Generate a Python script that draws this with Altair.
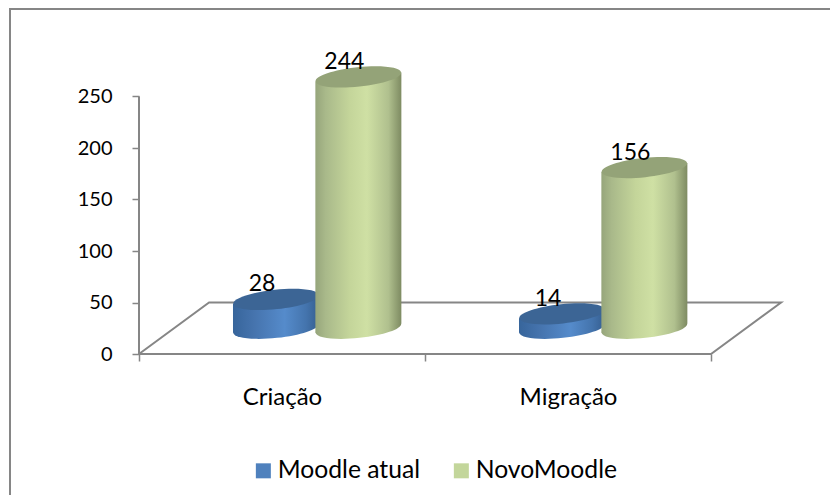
import altair as alt
import pandas as pd

categories = ["Criação", "Migração"]
series = ["Moodle atual", "NovoMoodle"]
moodle_atual = [28, 14]
novo_moodle = [244, 156]
y_ticks = [0, 50, 100, 150, 200, 250]

W, H = 822, 487
PX_X, PX_Y = 286.0, 1.03          # pixels per category / per value unit
X0, Y0 = 131, 346                 # plot position of the chart origin
XMIN, XMAX = -X0 / PX_X, (W - X0) / PX_X
YMIN, YMAX = -(H - Y0) / PX_Y, Y0 / PX_Y
x_scale = alt.Scale(domain=[XMIN, XMAX], nice=False, zero=False)
y_scale = alt.Scale(domain=[YMIN, YMAX], nice=False, zero=False)

FLOOR = 25        # cylinders stand half way into the floor depth
DEPTH_X, DEPTH_Y = 0.245, 50
HALF = 43 / PX_X
TILT = 4.4
SIZE = 86 ** 2
ELLIPSE = "M-0.995,0.105A1,0.225,-6,1,1,0.995,-0.105A1,0.225,-6,1,1,-0.995,0.105Z"
GREY = "#868686"
FONT = "Lato"


def grad(stops):
    return alt.LinearGradient(
        gradient="linear", x1=0, x2=1, y1=0, y2=0,
        stops=[alt.GradientStop(offset=o, color=c) for o, c in stops],
    )


x_axis = alt.Axis(
    orient="bottom", offset=-(H - Y0), values=[0, 0.5, 1, 1.5, 2], domain=False, grid=False, title=None,
    tickSize=7, tickWidth=1.5, tickColor=GREY,
    tickOpacity={"condition": {"test": "datum.value == 0.5 || datum.value == 1.5", "value": 0}, "value": 1},
    labelExpr="datum.value == 0.5 ? 'Criação' : datum.value == 1.5 ? 'Migração' : ''",
    labelOverlap=False, labelFont=FONT, labelFontSize=24, labelColor="black", labelPadding=24,
    labelAngle=0, labelBound=False, labelFlush=False,
)
y_axis = alt.Axis(
    orient="left", offset=-X0, values=y_ticks, domain=False, grid=False, title=None,
    tickSize=7, tickWidth=1.5, tickColor=GREY,
    labelFont=FONT, labelFontSize=20, labelColor="black", labelPadding=20,
    labelOverlap=False, labelBound=False, labelFlush=False,
)
X = alt.X("x:Q", scale=x_scale, axis=x_axis)
Y = alt.Y("y:Q", scale=y_scale, axis=y_axis)

# frame (only the top and left edges fall inside the picture)
frame = pd.DataFrame({"x": [XMIN + 2 / PX_X, XMIN + 2 / PX_X, XMAX],
                      "y": [YMIN, YMAX - 1 / PX_Y, YMAX - 1 / PX_Y], "o": [0, 1, 2]})
frame_l = alt.Chart(frame).mark_line(color=GREY, strokeWidth=2).encode(x=X, y=Y, order="o:O")

# floor and vertical axis line
floor = pd.DataFrame({"x": [0, 0, 2, 2 + DEPTH_X, DEPTH_X, 0],
                      "y": [y_ticks[-1], 0, 0, DEPTH_Y, DEPTH_Y, 0], "o": range(6)})
floor_l = alt.Chart(floor).mark_line(color=GREY, strokeWidth=2).encode(x=X, y=Y, order="o:O")

# legend through a real colour scale
legend_df = pd.DataFrame({"s": series, "x": [0, 0], "y": [0, 0]})
legend_l = alt.Chart(legend_df).mark_point(filled=True, opacity=0, size=1).encode(
    x=X, y=Y,
    color=alt.Color("s:N", scale=alt.Scale(domain=series, range=["#4F81BD", "#C3D69B"]),
                    legend=alt.Legend(orient="none", legendX=243, legendY=450, direction="horizontal",
                                      title=None, symbolType="square", symbolSize=225, symbolOpacity=1,
                                      symbolStrokeWidth=0, labelFont=FONT, labelFontSize=24.7,
                                      labelColor="black", labelOffset=2, columnPadding=28, columns=2)),
)


def cylinders(values, shift, side, top):
    centers = [i + shift for i in range(len(values))]
    rows = []
    for c, v, cat in zip(centers, values, categories):
        rows.append({"cat": cat, "x": c - HALF, "y": FLOOR - TILT, "y2": FLOOR + v - TILT})
        rows.append({"cat": cat, "x": c + HALF, "y": FLOOR + TILT, "y2": FLOOR + v + TILT})
    body = alt.Chart(pd.DataFrame(rows)).mark_area(fill=side, interpolate="linear", opacity=1).encode(
        x=X, y=Y, y2="y2:Q", detail="cat:N")
    bases = pd.DataFrame({"x": centers, "y": [FLOOR] * len(values)})
    tops = pd.DataFrame({"x": centers, "y": [FLOOR + v for v in values]})
    base = alt.Chart(bases).mark_point(shape=ELLIPSE, size=SIZE, filled=True, fill=side, opacity=1,
                                       strokeWidth=0).encode(x=X, y=Y)
    cap = alt.Chart(tops).mark_point(shape=ELLIPSE, size=SIZE, filled=True, fill=top, opacity=1,
                                     strokeWidth=0).encode(x=X, y=Y)
    return [base, body, cap]


blue = cylinders(moodle_atual, 0.479,
                 grad([(0, "#37659B"), (0.25, "#4674AE"), (0.6, "#558BCB"), (0.85, "#4474AD"), (1, "#355E90")]),
                 "#3C6595")
green = cylinders(novo_moodle, 0.767,
                  grad([(0, "#96A57B"), (0.12, "#A9B98A"), (0.4, "#C4D59A"), (0.6, "#CFE0A4"),
                        (0.85, "#B0C08E"), (1, "#7E8B62")]),
                  "#94A378")

labels = pd.DataFrame({
    "x": [i + 0.479 for i in range(2)] + [i + 0.767 for i in range(2)],
    "y": [FLOOR + v for v in moodle_atual + novo_moodle],
    "t": moodle_atual + novo_moodle,
})
text_l = alt.Chart(labels).mark_text(font=FONT, fontSize=23, color="black", dx=-14, dy=-15).encode(
    x=X, y=Y, text="t:Q")

chart = alt.layer(frame_l, floor_l, legend_l, *blue, *green, text_l).properties(
    width=W, height=H, padding=0, autosize=alt.AutoSizeParams(type="none"), background="white",
).configure_view(stroke=None)

chart.save("out.html", embed_options={"renderer": "svg", "actions": False})
